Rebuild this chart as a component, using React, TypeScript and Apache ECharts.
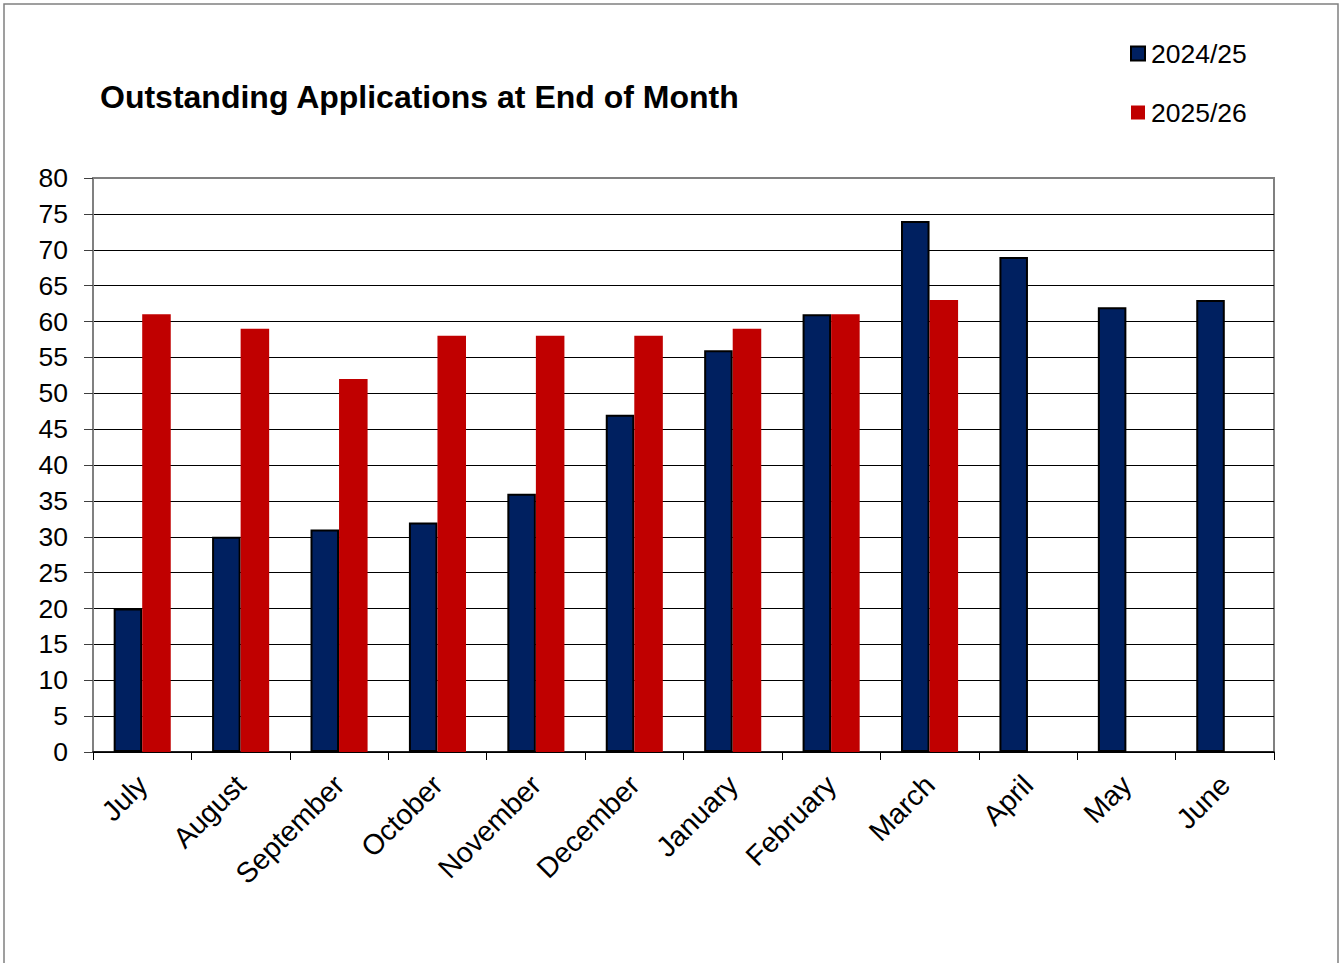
import React, { useEffect, useRef } from "react";
import * as echarts from "echarts";

const months = ["July", "August", "September", "October", "November", "December", "January", "February", "March", "April", "May", "June"];
const series2425 = [20, 30, 31, 32, 36, 47, 56, 61, 74, 69, 62, 63];
const series2526: (number | null)[] = [61, 59, 52, 58, 58, 58, 59, 61, 63, null, null, null];
const yTicksMax = 80;
const yInterval = 5;

const FONT = "'Liberation Sans', Arial, sans-serif";

export default function App() {
  const ref = useRef<HTMLDivElement>(null);
  useEffect(() => {
    if (!ref.current) return;
    const chart = echarts.init(ref.current, null, { renderer: "svg" });
    const splitColors = [] as string[];
    for (let v = 0; v <= yTicksMax; v += yInterval) splitColors.push(v === yTicksMax ? "#808080" : "#000000");
    chart.setOption({
      animation: false,
      backgroundColor: "#ffffff",
      textStyle: { fontFamily: FONT },
      title: {
        text: "Outstanding Applications at End of Month",
        left: 100,
        top: 81,
        padding: 0,
        textStyle: { fontFamily: FONT, fontSize: 32, fontWeight: "bold", color: "#000" },
      },
      legend: {
        orient: "vertical",
        left: 1130,
        top: 40,
        padding: 0,
        itemGap: 32,
        itemWidth: 14,
        itemHeight: 14,
        icon: "rect",
        textStyle: { fontFamily: FONT, fontSize: 26.5, color: "#000", padding: [0, 0, 0, 1] },
        data: ["2024/25", "2025/26"],
      },
      graphic: [
        {
          type: "rect",
          shape: { x: 4, y: 4, width: 1334, height: 1000 },
          style: { fill: "none", stroke: "#808080", lineWidth: 1.5 },
          silent: true,
        },
      ],
      grid: {
        left: 93,
        right: 65,
        top: 178,
        bottom: 211,
        show: true,
        borderColor: "#808080",
        borderWidth: 2,
        backgroundColor: "transparent",
      },
      xAxis: {
        type: "category",
        data: months,
        axisLine: { show: true, lineStyle: { color: "#000", width: 1.5 } },
        axisTick: { show: true, length: 8, lineStyle: { color: "#000" } },
        axisLabel: { rotate: 45, fontSize: 28.5, color: "#000", margin: 28, fontFamily: FONT, interval: 0 },
        splitLine: { show: false },
      },
      yAxis: {
        type: "value",
        min: 0,
        max: yTicksMax,
        interval: yInterval,
        axisLine: { show: true, lineStyle: { color: "#808080", width: 2 } },
        axisTick: { show: true, length: 9, lineStyle: { color: "#404040" } },
        axisLabel: { fontSize: 26.5, color: "#000", margin: 25, fontFamily: FONT },
        splitLine: { show: true, lineStyle: { color: splitColors, width: 1 } },
      },
      series: [
        {
          name: "2024/25",
          type: "bar",
          data: series2425,
          barGap: "0%",
          barCategoryGap: "42%",
          itemStyle: { color: "#002060", borderColor: "#000", borderWidth: 2 },
        },
        {
          name: "2025/26",
          type: "bar",
          data: series2526,
          barGap: "0%",
          barCategoryGap: "42%",
          itemStyle: { color: "#C00000" },
        },
      ],
    });
    return () => chart.dispose();
  }, []);
  return (
    <div
      ref={ref}
      style={{ position: "absolute", left: 0, top: 0, width: 1339, height: 963 }}
    />
  );
}
